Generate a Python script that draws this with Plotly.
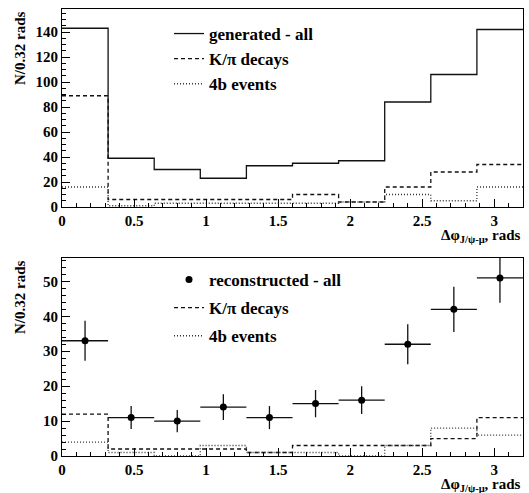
import plotly.graph_objects as go

# ---- data ----
bin_edges = [0.0, 0.32, 0.64, 0.96, 1.28, 1.60, 1.92, 2.24, 2.56, 2.88, 3.20]

gen_all = [143, 39, 30, 23, 33, 35, 37, 84, 106, 142]
gen_kpi = [89, 6, 6, 6, 6, 10, 4, 16, 28, 34]
gen_4b = [16, 1, 3, 3, 3, 3, 4, 10, 5, 16]

rec_all = [33, 11, 10, 14, 11, 15, 16, 32, 42, 51]
rec_err = [5.7, 3.3, 3.2, 3.7, 3.3, 3.9, 4.0, 5.7, 6.5, 7.1]
rec_kpi = [12, 2, 2, 2, 1, 3, 3, 3, 5, 11]
rec_4b = [4, 1, 0, 3, 1, 1, 0, 3, 8, 6]

x_ticks = [0, 0.5, 1, 1.5, 2, 2.5, 3]
x_ticklabels = ["0", "0.5", "1", "1.5", "2", "2.5", "3"]

FONT = "Liberation Serif, Times New Roman, serif"
W, H = 529, 493
ML, MR, MT, MB = 62, 6, 9, 37
PH = H - MT - MB
PW = W - ML - MR

DASH = "4px,3px"
DOT = "1px,2px"


def step_xy(values):
    xs = list(bin_edges)
    ys = list(values) + [values[-1]]
    return xs, ys


centers = [(bin_edges[i] + bin_edges[i + 1]) / 2 for i in range(len(bin_edges) - 1)]
halfw = [(bin_edges[i + 1] - bin_edges[i]) / 2 for i in range(len(bin_edges) - 1)]

fig = go.Figure()

# top panel
for vals, dash, name, color, gi in [
    (gen_all, "solid", "generated - all", "#111111", "a"),
    (gen_kpi, DASH, "K/\u03c0 decays", "#111111", "b"),
    (gen_4b, DOT, "4b events", "#333333", "c"),
]:
    xs, ys = step_xy(vals)
    fig.add_trace(go.Scatter(x=xs, y=ys, mode="lines",
                             line=dict(shape="hv", color=color, width=1.3, dash=dash),
                             name=name, xaxis="x", yaxis="y", legend="legend", legendgroup="t" + gi,
                             hoverinfo="skip"))

# bottom panel
fig.add_trace(go.Scatter(x=centers, y=rec_all, mode="markers",
                         marker=dict(color="black", size=7, symbol="circle"),
                         error_x=dict(type="data", array=halfw, width=0, color="#111111", thickness=1.3),
                         error_y=dict(type="data", array=rec_err, width=0, color="#111111", thickness=1.3),
                         name="reconstructed - all", xaxis="x2", yaxis="y2", legend="legend2",
                         legendgroup="ba"))
for vals, dash, name, color, gi in [
    (rec_kpi, DASH, "K/\u03c0 decays", "#111111", "b"),
    (rec_4b, DOT, "4b events", "#333333", "c"),
]:
    xs, ys = step_xy(vals)
    fig.add_trace(go.Scatter(x=xs, y=ys, mode="lines",
                             line=dict(shape="hv", color=color, width=1.3, dash=dash),
                             name=name, xaxis="x2", yaxis="y2", legend="legend2", legendgroup="b" + gi,
                             hoverinfo="skip"))


def ypix_to_paper(p):
    return (H - MB - p) / PH


def xpix_to_paper(p):
    return (p - ML) / PW


tickfont = dict(family=FONT, size=15, color="black", weight="bold")
xcommon = dict(range=[0, 3.2], tickvals=x_ticks, ticktext=x_ticklabels, ticks="inside", ticklen=8,
               tickcolor="black", showline=True, linecolor="black", linewidth=1, mirror=True,
               showgrid=False, zeroline=False, tickfont=tickfont,
               minor=dict(dtick=0.1, tick0=0, ticks="inside", ticklen=4, tickcolor="black"))
ycommon = dict(ticks="inside", ticklen=8, tickcolor="black", showline=True, linecolor="black", linewidth=1,
               mirror=True, showgrid=False, zeroline=False, tickfont=tickfont)

top_dom = [ypix_to_paper(207), 1.0]
bot_dom = [0.0, ypix_to_paper(258)]

legfont = dict(family=FONT, size=17, color="black", weight="bold")
titlefont = dict(family=FONT, size=15, color="black", weight="bold")

fig.update_layout(
    width=W, height=H, paper_bgcolor="white", plot_bgcolor="white",
    margin=dict(l=ML, r=MR, t=MT, b=MB),
    showlegend=True,
    xaxis=dict(domain=[0, 1], anchor="y", **xcommon),
    yaxis=dict(domain=top_dom, anchor="x", range=[0, 158.4], dtick=20,
               minor=dict(dtick=5, ticks="inside", ticklen=4, tickcolor="black"), **ycommon),
    xaxis2=dict(domain=[0, 1], anchor="y2", **xcommon),
    yaxis2=dict(domain=bot_dom, anchor="x2", range=[0, 56.7], dtick=10,
                minor=dict(dtick=2, ticks="inside", ticklen=4, tickcolor="black"), **ycommon),
    legend=dict(x=xpix_to_paper(169), y=ypix_to_paper(16), xanchor="left", yanchor="top",
                bgcolor="rgba(0,0,0,0)", font=legfont, traceorder="grouped", tracegroupgap=0,
                itemwidth=30),
    legend2=dict(x=xpix_to_paper(169), y=ypix_to_paper(262), xanchor="left", yanchor="top",
                 bgcolor="rgba(0,0,0,0)", font=legfont, traceorder="grouped", tracegroupgap=3,
                 itemwidth=30),
    annotations=[
        dict(text="N/0.32 rads", xref="paper", yref="paper", x=xpix_to_paper(10),
             y=ypix_to_paper(9), xanchor="left", yanchor="top", textangle=-90, showarrow=False,
             font=titlefont),
        dict(text="N/0.32 rads", xref="paper", yref="paper", x=xpix_to_paper(10),
             y=ypix_to_paper(258), xanchor="left", yanchor="top", textangle=-90, showarrow=False,
             font=titlefont),
        dict(text="\u0394\u03c6<sub>J/\u03c8-\u03bc</sub>, rads", xref="paper", yref="paper", x=1.0,
             y=ypix_to_paper(225), xanchor="right", yanchor="top", showarrow=False,
             font=titlefont),
        dict(text="\u0394\u03c6<sub>J/\u03c8-\u03bc</sub>, rads", xref="paper", yref="paper", x=1.0,
             y=ypix_to_paper(474), xanchor="right", yanchor="top", showarrow=False,
             font=titlefont),
    ],
)

fig.write_html("out.html", post_script="document.body.style.margin='0';",
               config={"displayModeBar": False})
